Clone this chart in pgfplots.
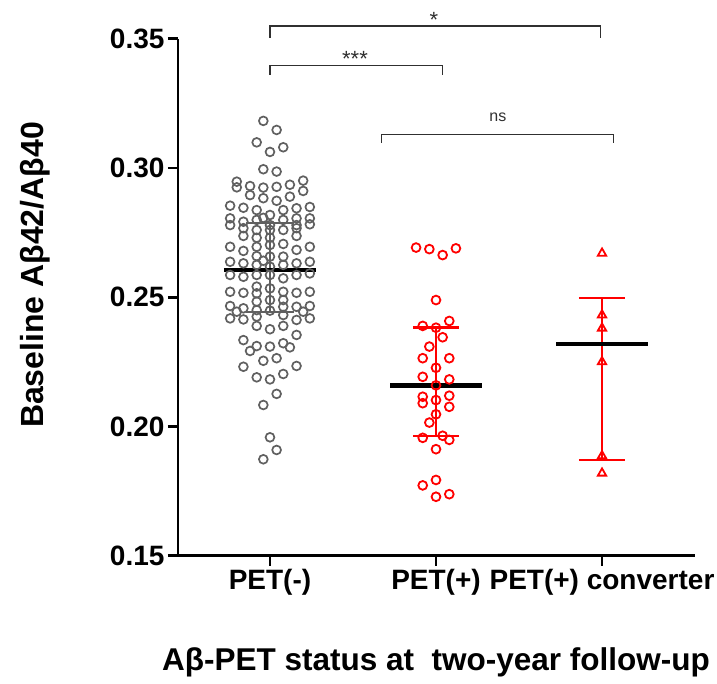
\documentclass[border=0pt]{standalone}
\usepackage{fontspec}
\setmainfont{Liberation Sans}
\usepackage{pgfplots}
\pgfplotsset{compat=1.18}
\definecolor{ptgrey}{HTML}{606060}
\definecolor{ptred}{HTML}{FF0000}
\definecolor{brk}{HTML}{303030}
\begin{document}
\begin{tikzpicture}[x=1pt,y=1pt]
\useasboundingbox (-178,-127.3) rectangle (539,555.7);
\begin{axis}[
  at={(0,0)}, anchor=south west,
  scale only axis, width=517pt, height=517pt,
  xmin=-0.554, xmax=2.56, ymin=0.15, ymax=0.35,
  axis x line=bottom, axis y line=left,
  axis line style={-, line width=2.6pt, black},
  xtick={0,1,2}, xticklabels={PET(-),PET(+),PET(+) converter},
  ytick={0.15,0.20,0.25,0.30,0.35},
  /pgf/number format/assume math mode=true,
  yticklabel style={/pgf/number format/.cd, fixed, fixed zerofill, precision=2},
  tick align=outside, major tick length=10pt,
  tick style={line width=2.6pt, black},
  minor tick num=0,
  ticklabel style={font=\fontsize{28}{28}\selectfont\bfseries},
  xlabel={Aβ-PET status at\ \ two-year follow-up},
  ylabel={Baseline Aβ42/Aβ40},
  xlabel style={at={(rel axis cs:0.499,-0.2056)}, anchor=center, font=\fontsize{31.5}{31.5}\selectfont\bfseries},
  ylabel style={at={(rel axis cs:-0.2766,0.543)}, anchor=center, font=\fontsize{32}{32}\selectfont\bfseries},
  clip=false,
]
% PET(-) points
\addplot[only marks, mark=o, mark size=4.4pt, mark options={ptgrey, line width=1.7pt}] coordinates {
(-0.04,0.3182) (0.04,0.3147) (-0.08,0.3099) (0.08,0.3080) (0,0.3062)
(-0.04,0.2995) (0.04,0.2986)
(0.2,0.2951) (-0.2,0.2947) (0.12,0.2935) (-0.12,0.2930) (0.04,0.2927) (-0.2,0.2925) (-0.04,0.2924)
(0.2,0.2911) (-0.12,0.2895) (0.12,0.2889) (-0.04,0.2883) (0.04,0.2873)
(-0.24,0.2854) (0.24,0.2849) (-0.16,0.2846) (0.16,0.2844) (-0.08,0.2837) (0.08,0.2837) (0,0.2818)
(-0.04,0.2807) (-0.24,0.2805) (0.16,0.2805) (0.24,0.2805) (-0.08,0.2799) (0.08,0.2799) (-0.16,0.2792)
(0.24,0.2782) (-0.24,0.2779) (0,0.2779) (0.16,0.2779)
(-0.16,0.2767) (0.16,0.2767) (-0.08,0.2760) (0,0.2760) (0.08,0.2760)
(-0.16,0.2737) (0.16,0.2737) (-0.08,0.2730) (0,0.2730)
(-0.24,0.2695) (-0.16,0.2679) (-0.08,0.2695) (0,0.2702) (0.08,0.2706) (0.16,0.2683) (0.24,0.2695)
(-0.08,0.2659) (0,0.2657) (0.08,0.2657)
(-0.24,0.2637) (-0.16,0.2631) (-0.08,0.2625) (-0.04,0.2641) (0,0.2618) (0.08,0.2625) (0.16,0.2631) (0.24,0.2637)
(-0.24,0.2586) (-0.16,0.2579) (-0.08,0.2586) (0,0.2586) (0.08,0.2573) (0.16,0.2586) (0.24,0.2592)
(-0.24,0.2521) (-0.16,0.2517) (-0.08,0.2541) (0,0.2534) (0.08,0.2521) (0.16,0.2517) (0.24,0.2521) (-0.08,0.2515)
(0,0.2489) (-0.08,0.2483) (0.08,0.2489)
(-0.24,0.2466) (-0.16,0.2457) (-0.08,0.2450) (0,0.2448) (0.08,0.2463) (0.16,0.2463) (0.24,0.2466)
(-0.2,0.2444) (0.2,0.2444)
(-0.24,0.2418) (-0.16,0.2414) (-0.08,0.2425) (0.08,0.2431) (0.16,0.2412) (0.24,0.2418)
(-0.08,0.2389) (0,0.2376) (0.08,0.2389) (0.16,0.2354)
(-0.16,0.2334) (-0.12,0.2292) (-0.08,0.2311) (0,0.2309) (0.08,0.2322) (0.12,0.2306)
(-0.04,0.2254) (0.04,0.2264)
(-0.16,0.2231) (0.16,0.2234)
(-0.08,0.2190) (0,0.2182) (0.08,0.2203) (0.04,0.2126) (-0.04,0.2083)
(0,0.1958) (0.04,0.1909) (-0.04,0.1873)
};
% PET(-) IQR and median
\addplot[ptgrey, line width=2pt] coordinates {(0,0.2444) (0,0.2786)};
\addplot[ptgrey, line width=2pt] coordinates {(-0.145,0.2786) (0.145,0.2786)};
\addplot[ptgrey, line width=2pt] coordinates {(-0.145,0.2444) (0.145,0.2444)};
\addplot[black, line width=4.5pt] coordinates {(-0.277,0.2605) (0.277,0.2605)};
% PET(+) error bars
\addplot[ptred, line width=2.5pt] coordinates {(1,0.1963) (1,0.2382)};
\addplot[ptred, line width=2.5pt] coordinates {(0.861,0.2382) (1.139,0.2382)};
\addplot[ptred, line width=2.5pt] coordinates {(0.861,0.1963) (1.139,0.1963)};
% PET(+) points
\addplot[only marks, mark=o, mark size=4.4pt, mark options={ptred, line width=1.8pt}] coordinates {
(0.88,0.2692) (0.96,0.2686) (1.04,0.2663) (1.12,0.2689)
(1.00,0.2489)
(0.92,0.2389) (1.00,0.2382) (1.08,0.2408)
(1.04,0.2345) (0.96,0.2309)
(0.92,0.2264) (1.08,0.2264) (1.00,0.2227)
(0.92,0.2192) (1.08,0.2182) (1.00,0.2159)
(0.92,0.2115) (1.08,0.2119)
(0.92,0.2090) (1.00,0.2102) (1.08,0.2076)
(1.00,0.2047) (0.96,0.2015)
(0.92,0.1956) (1.04,0.1964) (1.08,0.1948)
(1.00,0.1912)
(1.00,0.1793) (0.92,0.1772) (1.08,0.1738) (1.00,0.1728)
};
\addplot[black, line width=4.5pt] coordinates {(0.723,0.2159) (1.277,0.2159)};
% converter error bars
\addplot[ptred, line width=2.5pt] coordinates {(2,0.1870) (2,0.2496)};
\addplot[ptred, line width=2.5pt] coordinates {(1.861,0.2496) (2.139,0.2496)};
\addplot[ptred, line width=2.5pt] coordinates {(1.861,0.1870) (2.139,0.1870)};
\addplot[only marks, mark=triangle, mark size=4.8pt, mark options={ptred, line width=1.8pt}] coordinates {
(2,0.2670) (2,0.2431) (2,0.2380) (2,0.2250) (2,0.1886) (2,0.1819)
};
\addplot[black, line width=4.5pt] coordinates {(1.723,0.2319) (2.277,0.2319)};
% significance brackets
\addplot[brk, line width=1.5pt] coordinates {(0,0.3504) (0,0.3550) (1.99,0.3550) (1.99,0.3504)};
\addplot[brk, line width=1.5pt] coordinates {(0,0.3360) (0,0.3397) (1.04,0.3397) (1.04,0.3360)};
\addplot[brk, line width=1.5pt] coordinates {(0.673,0.3097) (0.673,0.3130) (2.068,0.3130) (2.068,0.3097)};
\node[anchor=base, text=brk, font=\fontsize{22}{22}\selectfont, inner sep=0pt] at (axis cs:0.988,0.3545) {*};
\node[anchor=base, text=brk, font=\fontsize{22}{22}\selectfont, inner sep=0pt] at (axis cs:0.512,0.3391) {***};
\node[anchor=base, text=brk, font=\fontsize{16}{16}\selectfont, inner sep=0pt] at (axis cs:1.373,0.3179) {ns};
\end{axis}
\end{tikzpicture}
\end{document}
